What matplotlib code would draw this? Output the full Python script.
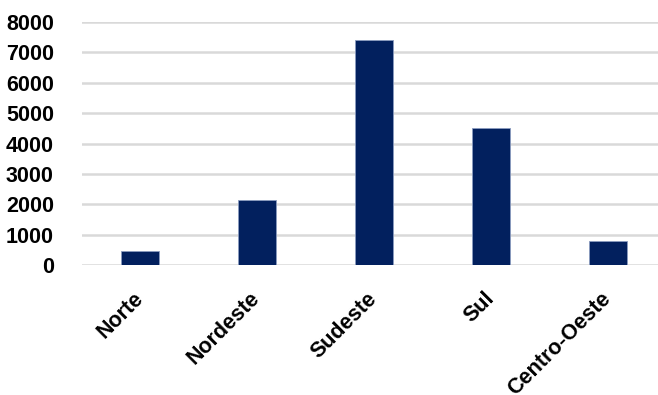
import matplotlib.pyplot as plt

# Regiões e valores
regioes = ['Norte', 'Nordeste', 'Sudeste', 'Sul', 'Centro-Oeste']
valores = [460, 2150, 7420, 4500, 800]
yticks = [0, 1000, 2000, 3000, 4000, 5000, 6000, 7000, 8000]

plt.rcParams['font.family'] = ['Liberation Sans', 'DejaVu Sans']

fig = plt.figure(figsize=(6.58, 3.95), dpi=100)
# the plot area runs past the right edge of the figure
ax = fig.add_axes([0.124, 0.329, 0.889, 0.615])

ax.bar(range(len(regioes)), valores, width=0.32, color='#02205e',
       edgecolor='#8a9bbf', linewidth=0.6, zorder=3)

ax.set_xlim(-0.5, len(regioes) - 0.5)
ax.set_ylim(0, 8000)
ax.set_yticks(yticks)
ax.set_yticklabels([str(v) for v in yticks], fontsize=15.5, fontweight='bold')
ax.set_xticks(range(len(regioes)))
ax.set_xticklabels(regioes, fontsize=15.5, fontweight='bold', rotation=45,
                   ha='right', va='center', rotation_mode='anchor')

ax.grid(axis='y', color='#d9d9d9', linewidth=1.8, zorder=0)
ax.tick_params(axis='both', length=0)
ax.tick_params(axis='y', pad=20)
ax.tick_params(axis='x', pad=22)
for s in ax.spines.values():
    s.set_visible(False)

fig.savefig('out.png', dpi=100)
